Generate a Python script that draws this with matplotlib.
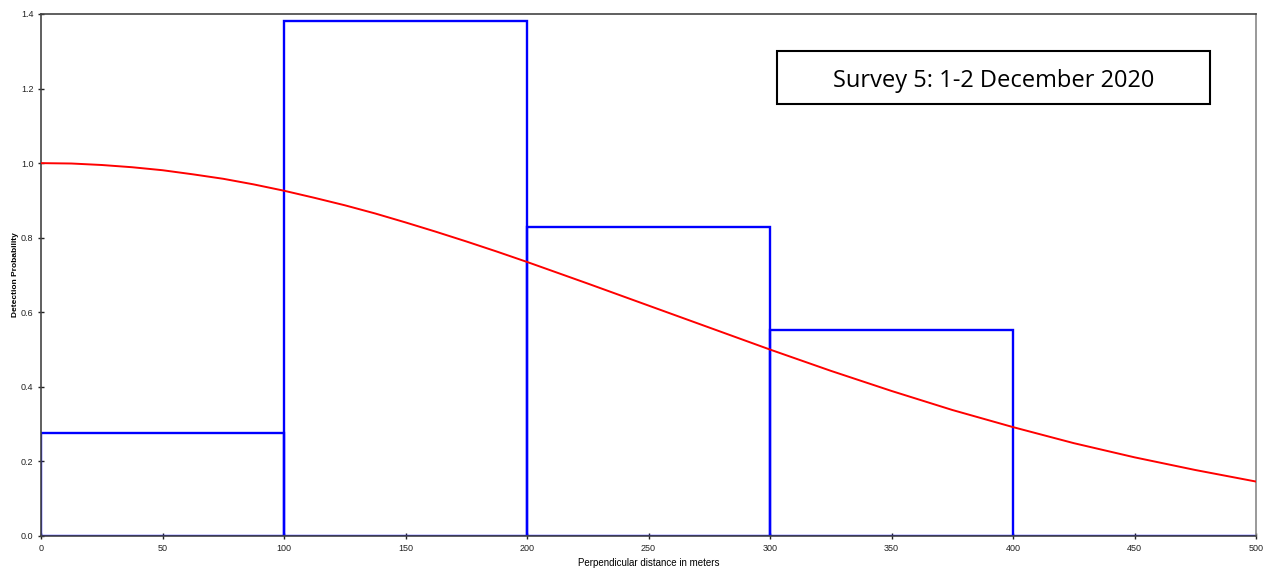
import matplotlib
matplotlib.use("Agg")
import matplotlib.pyplot as plt
from matplotlib.patches import Rectangle

# histogram of perpendicular distances (scaled)
bin_left = [0, 100, 200, 300, 400]
bin_height = [0.277, 1.381, 0.829, 0.552, 0.0]

# fitted detection function
curve_x = [0, 12.5, 25, 37.5, 50, 62.5, 75, 87.5, 100, 112.5, 125, 137.5,
           150, 162.5, 175, 187.5, 200, 225, 250, 275, 300, 325, 350, 375,
           400, 425, 450, 475, 500]
curve_y = [1.000, 0.999, 0.995, 0.989, 0.981, 0.970, 0.958, 0.943, 0.926,
           0.907, 0.887, 0.865, 0.841, 0.816, 0.790, 0.763, 0.735, 0.677,
           0.618, 0.559, 0.500, 0.443, 0.389, 0.338, 0.292, 0.249, 0.211,
           0.177, 0.146]

title = "Survey 5: 1-2 December 2020"

plt.rcParams['font.family'] = ['Liberation Sans', 'DejaVu Sans']

fig = plt.figure(figsize=(12.7, 5.71), dpi=100)
ax = fig.add_axes([0.0323, 0.0613, 0.9567, 0.9142])

ax.bar(bin_left, bin_height, width=100, align='edge', fill=False,
       edgecolor='#0000ff', linewidth=1.7, zorder=2)
ax.plot(curve_x, curve_y, color='#ff0000', linewidth=1.4, zorder=4)

ax.set_xlim(0, 500)
ax.set_ylim(0, 1.4)
ax.set_xticks(range(0, 501, 50))
ax.set_yticks([0.0, 0.2, 0.4, 0.6, 0.8, 1.0, 1.2, 1.4])
ax.set_yticklabels(["%.1f" % v for v in ax.get_yticks()])
ax.tick_params(direction='inout', length=5, width=1, labelsize=6.5,
               colors='#222222', pad=3)

for s in ['left', 'bottom', 'top']:
    ax.spines[s].set_color('#444444')
    ax.spines[s].set_linewidth(1.2)
    ax.spines[s].set_zorder(3)
ax.spines['right'].set_color('#888888')
ax.spines['right'].set_linewidth(1.2)

ax.set_xlabel("Perpendicular distance in meters", fontsize=7, labelpad=4)
ax.set_ylabel("Detection Probability", fontsize=6, fontweight='bold',
              labelpad=1)

# title box
fig.patches.append(Rectangle((0.6118, 0.8179), 0.341, 0.0928,
                             transform=fig.transFigure, fill=False,
                             edgecolor='black', linewidth=1.5))
fig.text(0.7823, 0.858, title, ha='center', va='center', fontsize=17,
         family=['Open Sans', 'DejaVu Sans'])

fig.savefig("out.png", dpi=100)
